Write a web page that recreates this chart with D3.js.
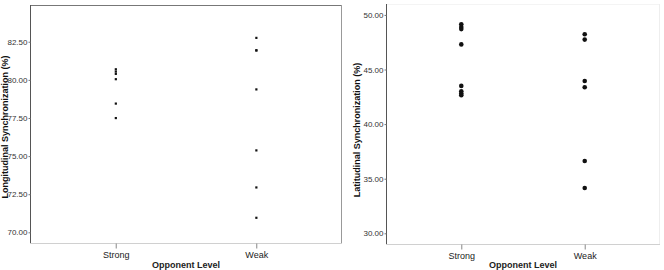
<!DOCTYPE html>
<html><head><meta charset="utf-8">
<script src="https://cdn.jsdelivr.net/npm/d3@7"></script>
<style>body{margin:0;background:#fff}svg{display:block;font-family:"Liberation Sans",Arial,sans-serif}</style>
</head><body>
<script>
const categories = ["Strong", "Weak"];
const longStrong = [80.70, 80.55, 80.40, 80.05, 78.45, 77.50];
const longWeak = [82.76, 81.95, 81.93, 79.38, 75.38, 72.95, 70.96];
const latStrong = [49.15, 48.90, 48.70, 47.30, 43.50, 43.00, 42.80, 42.65];
const latWeak = [48.23, 47.74, 43.95, 43.38, 36.62, 34.15];
const longTicks = [70, 72.5, 75, 77.5, 80, 82.5];
const latTicks = [30, 35, 40, 45, 50];

const svg = d3.select("body").append("svg").attr("width", 664).attr("height", 270);

function panel(opt) {
  const g = svg.append("g");
  const x = d3.scalePoint().domain(categories).range([opt.x0, opt.x1]).padding(0.61);
  const y = d3.scaleLinear().domain(opt.dom).range([opt.y1, opt.y0]);
  // frame
  g.append("line").attr("x1", opt.x0).attr("x2", opt.x1).attr("y1", opt.y0 + 0.5).attr("y2", opt.y0 + 0.5).attr("stroke", opt.topColor);
  g.append("line").attr("x1", opt.x1 - 0.5).attr("x2", opt.x1 - 0.5).attr("y1", opt.y0).attr("y2", opt.y1).attr("stroke", opt.rightColor);
  // axes
  const ya = d3.axisLeft(y).tickValues(opt.ticks).tickFormat(d3.format(".2f")).tickSize(2).tickPadding(1);
  const yg = g.append("g").attr("transform", `translate(${opt.x0 + 0.5},0)`).call(ya);
  yg.select(".domain").attr("stroke", "#555").attr("d", `M0,${opt.y0}V${opt.y1}`);
  yg.selectAll(".tick line").attr("stroke", "#777");
  yg.selectAll(".tick text").attr("fill", "#333").style("font-size", "8px");
  const xa = d3.axisBottom(x).tickSize(5).tickPadding(3);
  const xg = g.append("g").attr("transform", `translate(0,${opt.y1 + 0.5})`).call(xa);
  xg.select(".domain").attr("stroke", "#d0d0d0").attr("d", `M${opt.x0},0H${opt.x1}`);
  xg.selectAll(".tick line").attr("stroke", "#888");
  xg.selectAll(".tick text").attr("fill", "#222").style("font-size", "9px");
  // titles
  g.append("text").attr("x", (opt.x0 + opt.x1) / 2).attr("y", 268).attr("text-anchor", "middle")
    .style("font-size", "9px").style("font-weight", "bold").attr("fill", "#222").text("Opponent Level");
  g.append("text").attr("transform", `translate(${opt.tx},${opt.ty}) rotate(-90)`).attr("text-anchor", "middle")
    .style("font-size", "9px").style("font-weight", "bold").attr("fill", "#111").text(opt.title);
  // points
  [[categories[0], opt.s], [categories[1], opt.w]].forEach(([c, vals]) => {
    if (opt.r < 1.5) {
      g.selectAll(null).data(vals).enter().append("rect")
        .attr("x", x(c) - 1).attr("y", d => y(d) - 1).attr("width", 2.2).attr("height", 2.2).attr("fill", "#111");
    } else {
      g.selectAll(null).data(vals).enter().append("circle")
        .attr("cx", x(c)).attr("cy", d => y(d)).attr("r", opt.r).attr("fill", "#111");
    }
  });
}

panel({x0: 30, x1: 342, y0: 5, y1: 243, dom: [69.3, 84.91], ticks: longTicks,
  s: longStrong, w: longWeak, r: 1, title: "Longitudinal Synchronization (%)", tx: 8, ty: 127,
  topColor: "#777", rightColor: "#999"});
panel({x0: 386, x1: 660, y0: 4, y1: 244, dom: [29.02, 51.0], ticks: latTicks,
  s: latStrong, w: latWeak, r: 2.3, title: "Latitudinal Synchronization (%)", tx: 360, ty: 130,
  topColor: "#f4f4f4", rightColor: "#eeeeee"});
</script>
</body></html>
